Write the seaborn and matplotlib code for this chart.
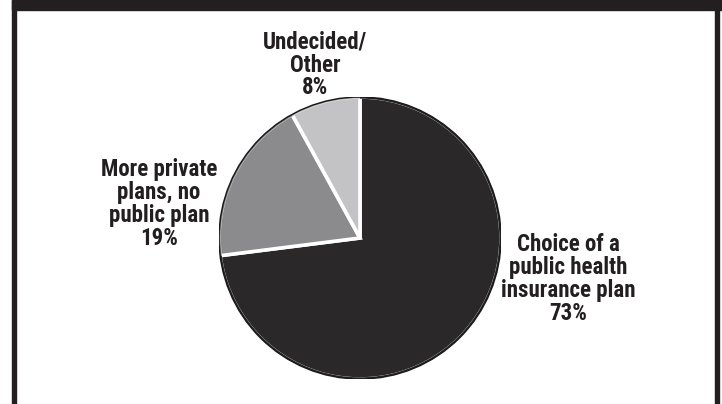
import matplotlib
matplotlib.use("Agg")
import matplotlib.pyplot as plt
from matplotlib import font_manager as fm
from matplotlib.patches import Rectangle, Circle
import seaborn as sns

# Survey shares, clockwise from 12 o'clock
categories = [
    "Choice of a\npublic health\ninsurance plan",
    "More private\nplans, no\npublic plan",
    "Undecided/\nOther",
]
shares = [73, 19, 8]
slice_colors = ["#2a2829", "#8b8b8d", "#c3c3c5"]

sns.set_theme(style="white")


def pick_label_font():
    """Prefer a narrow bold sans for the slice labels."""
    fonts = fm.fontManager.ttflist
    names = {f.name for f in fonts}
    for narrow in ["Liberation Sans Narrow", "Roboto Condensed", "Open Sans Condensed",
                   "Noto Sans Display"]:
        if narrow in names:
            return narrow, "normal"
    for f in fonts:
        if f.name == "DejaVu Sans" and f.stretch == "condensed":
            return "DejaVu Sans", "condensed"
    return "Roboto", "normal"


label_family, label_stretch = pick_label_font()
plt.rcParams["font.family"] = [label_family, "DejaVu Sans"]

W, H = 722, 404
fig = plt.figure(figsize=(W / 100, H / 100), dpi=100)
fig.patch.set_facecolor("white")

# pie axes placed in pixel terms: centre (360, 238), radius 141
cx, cy, r = 360, 238, 141
ax = fig.add_axes([(cx - r) / W, (H - cy - r) / H, 2 * r / W, 2 * r / H])
pie_kw = dict(colors=slice_colors, startangle=90, counterclock=False, radius=1.0)
ax.pie(shares, wedgeprops=dict(edgecolor="white", linewidth=2.6), **pie_kw)
# thin rim in slice colours so the white separators stop at the black outline
ax.pie(shares, wedgeprops=dict(width=0.012, edgecolor="none", linewidth=0), **pie_kw)
ax.add_patch(Circle((0, 0), 1.0, fill=False, edgecolor="#1a1a1a", linewidth=1.1, zorder=5))
ax.set_xlim(-1, 1)
ax.set_ylim(-1, 1)
ax.set_aspect("equal")
ax.axis("off")

# frame: heavy band on top, thin rules on both sides
frame = "#231f20"
fig.patches.append(Rectangle((12 / W, 1 - 10 / H), 1 - 12 / W, 10 / H,
                             transform=fig.transFigure, color=frame, zorder=0))
fig.patches.append(Rectangle((12 / W, 0), 3.5 / W, 1,
                             transform=fig.transFigure, color=frame, zorder=0))
fig.patches.append(Rectangle((715 / W, 0), 4 / W, 1,
                             transform=fig.transFigure, color=frame, zorder=0))

# slice labels (name + percentage), pixel anchors = text centres
label_pos = [(568, 279), (159, 204), (315, 65)]
for name, val, (px, py) in zip(categories, shares, label_pos):
    fig.text(px / W, 1 - py / H, f"{name}\n{val}%", ha="center", va="center",
             fontsize=16.5, fontweight="bold", fontstretch=label_stretch,
             color="#231f20", linespacing=1.0)

fig.savefig("out.png", dpi=100)
